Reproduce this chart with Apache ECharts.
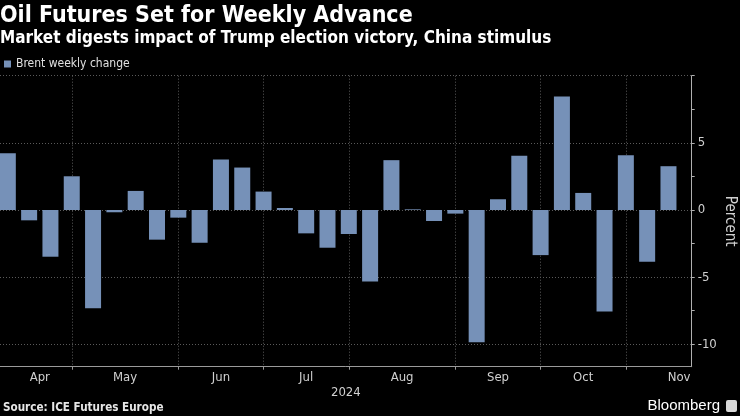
<!DOCTYPE html>
<html>
<head>
<meta charset="utf-8">
<script src="https://cdn.jsdelivr.net/npm/echarts@6/dist/echarts.min.js"></script>
<style>
html, body { margin: 0; padding: 0; background: #000; }
#chart { width: 740px; height: 416px; }
</style>
</head>
<body>
<div id="chart"></div>
<script>
// Weekly Brent change (week ending Friday), percent
const weeks = [
  '2024-04-05','2024-04-12','2024-04-19','2024-04-26',
  '2024-05-03','2024-05-10','2024-05-17','2024-05-24','2024-05-31',
  '2024-06-07','2024-06-14','2024-06-21','2024-06-28',
  '2024-07-05','2024-07-12','2024-07-19','2024-07-26',
  '2024-08-02','2024-08-09','2024-08-16','2024-08-23','2024-08-30',
  '2024-09-06','2024-09-13','2024-09-20','2024-09-27',
  '2024-10-04','2024-10-11','2024-10-18','2024-10-25',
  '2024-11-01','2024-11-08'
];
const brentChange = [
  4.23, -0.77, -3.48, 2.51,
  -7.31, -0.17, 1.42, -2.21, -0.57,
  -2.44, 3.76, 3.16, 1.37,
  0.15, -1.74, -2.81, -1.79,
  -5.32, 3.71, 0.05, -0.82, -0.27,
  -9.85, 0.80, 4.03, -3.36,
  8.46, 1.27, -7.56, 4.08,
  -3.86, 3.26
];
// Month ticks: last week of each month (index into weeks)
const monthTickIdx = [3, 8, 12, 16, 21, 25, 29];
const monthLabels = ['Apr', 'May', 'Jun', 'Jul', 'Aug', 'Sep', 'Oct', 'Nov'];
const monthLabelPos = [1.5, 5.5, 10, 14, 18.5, 23, 27, 31.5];
const yearLabel = '2024';
const yLabelValues = [-10, -5, 0, 5];
const yTickValues = [-10, -7.5, -5, -2.5, 0, 2.5, 5, 7.5, 10];
const yGridValues = [-10, -5, 0, 5, 10];

const FONT = "'DejaVu Sans Condensed', 'Liberation Sans Narrow', 'DejaVu Sans', sans-serif";
const chart = echarts.init(document.getElementById('chart'), null, { renderer: 'canvas' });

const seriesData = brentChange.map((v, i) => [i, v]);
const labelMap = {};
monthLabelPos.forEach((p, i) => { labelMap[p] = monthLabels[i]; });

const option = {
  backgroundColor: '#000',
  animation: false,
  textStyle: { fontFamily: FONT },
  title: [
    { text: 'Oil Futures Set for Weekly Advance', left: 0, top: 5, padding: 0,
      textStyle: { color: '#fff', fontSize: 23, fontWeight: 'bold', fontFamily: FONT } },
    { text: 'Market digests impact of Trump election victory, China stimulus', left: 0, top: 30, padding: 0,
      textStyle: { color: '#fff', fontSize: 17, fontWeight: 'bold', fontFamily: FONT } },
    { text: 'Source: ICE Futures Europe', left: 3, top: 402, padding: 0,
      textStyle: { color: '#e6e6e6', fontSize: 11.6, fontWeight: 'bold', fontFamily: FONT } },
    { text: 'Bloomberg', right: 20, top: 398, padding: 0,
      textStyle: { color: '#fff', fontSize: 15, fontWeight: 'normal', fontFamily: "'Liberation Sans', Arial, sans-serif" } }
  ],
  legend: {
    data: ['Brent weekly change'], left: 4, top: 58, padding: 0, icon: 'rect',
    itemWidth: 7, itemHeight: 7, itemGap: 10,
    textStyle: { color: '#e0e0e0', fontSize: 12, fontFamily: FONT }
  },
  grid: { left: 0, right: 48.3, top: 75.7, bottom: 49.3, containLabel: false, outerBoundsMode: 'none' },
  xAxis: {
    type: 'value', min: -0.367, max: 32.09, position: 'bottom',
    name: yearLabel, nameLocation: 'middle', nameGap: 19, nameMoveOverlap: false,
    nameTextStyle: { color: '#d0d0d0', fontSize: 13, fontFamily: FONT },
    axisLine: { show: true, onZero: false, lineStyle: { color: '#9a9a9a', width: 1 } },
    axisTick: { show: true, customValues: monthTickIdx, length: 3, lineStyle: { color: '#9a9a9a' } },
    splitLine: { show: true, lineStyle: { color: '#5a5a5a', type: [1, 2], width: 1 } },
    axisLabel: {
      customValues: monthLabelPos, color: '#d0d0d0', fontSize: 13, margin: 4, fontFamily: FONT,
      formatter: v => labelMap[v] || ''
    }
  },
  yAxis: [
    {
      type: 'value', position: 'right', min: -11.67, max: 10,
      name: 'Percent', nameLocation: 'middle', nameRotate: -90, nameGap: 31, nameMoveOverlap: false,
      nameTextStyle: { color: '#d0d0d0', fontSize: 15, fontFamily: FONT },
      axisLine: { show: true, onZero: false, lineStyle: { color: '#b0b0b0', width: 1 } },
      axisTick: { show: true, customValues: yTickValues, length: 3, lineStyle: { color: '#b0b0b0' } },
      axisLabel: { customValues: yLabelValues, color: '#d0d0d0', fontSize: 13, margin: 6, fontFamily: FONT },
      splitLine: { show: false }
    },
    {
      type: 'value', position: 'right', min: -11.67, max: 10,
      axisLine: { show: false },
      axisTick: { show: false, customValues: yGridValues },
      axisLabel: { show: false },
      splitLine: { show: true, lineStyle: { color: '#5a5a5a', type: [1, 2], width: 1 } }
    }
  ],
  series: [{
    name: 'Brent weekly change', type: 'bar', yAxisIndex: 0,
    data: seriesData, barWidth: 16,
    itemStyle: { color: '#7691b8' }
  }],
  graphic: [
    { type: 'rect', right: 3, top: 400, shape: { width: 11, height: 12, r: 2 }, style: { fill: '#d8d8d8' } }
  ]
};
chart.setOption(option);
</script>
</body>
</html>
